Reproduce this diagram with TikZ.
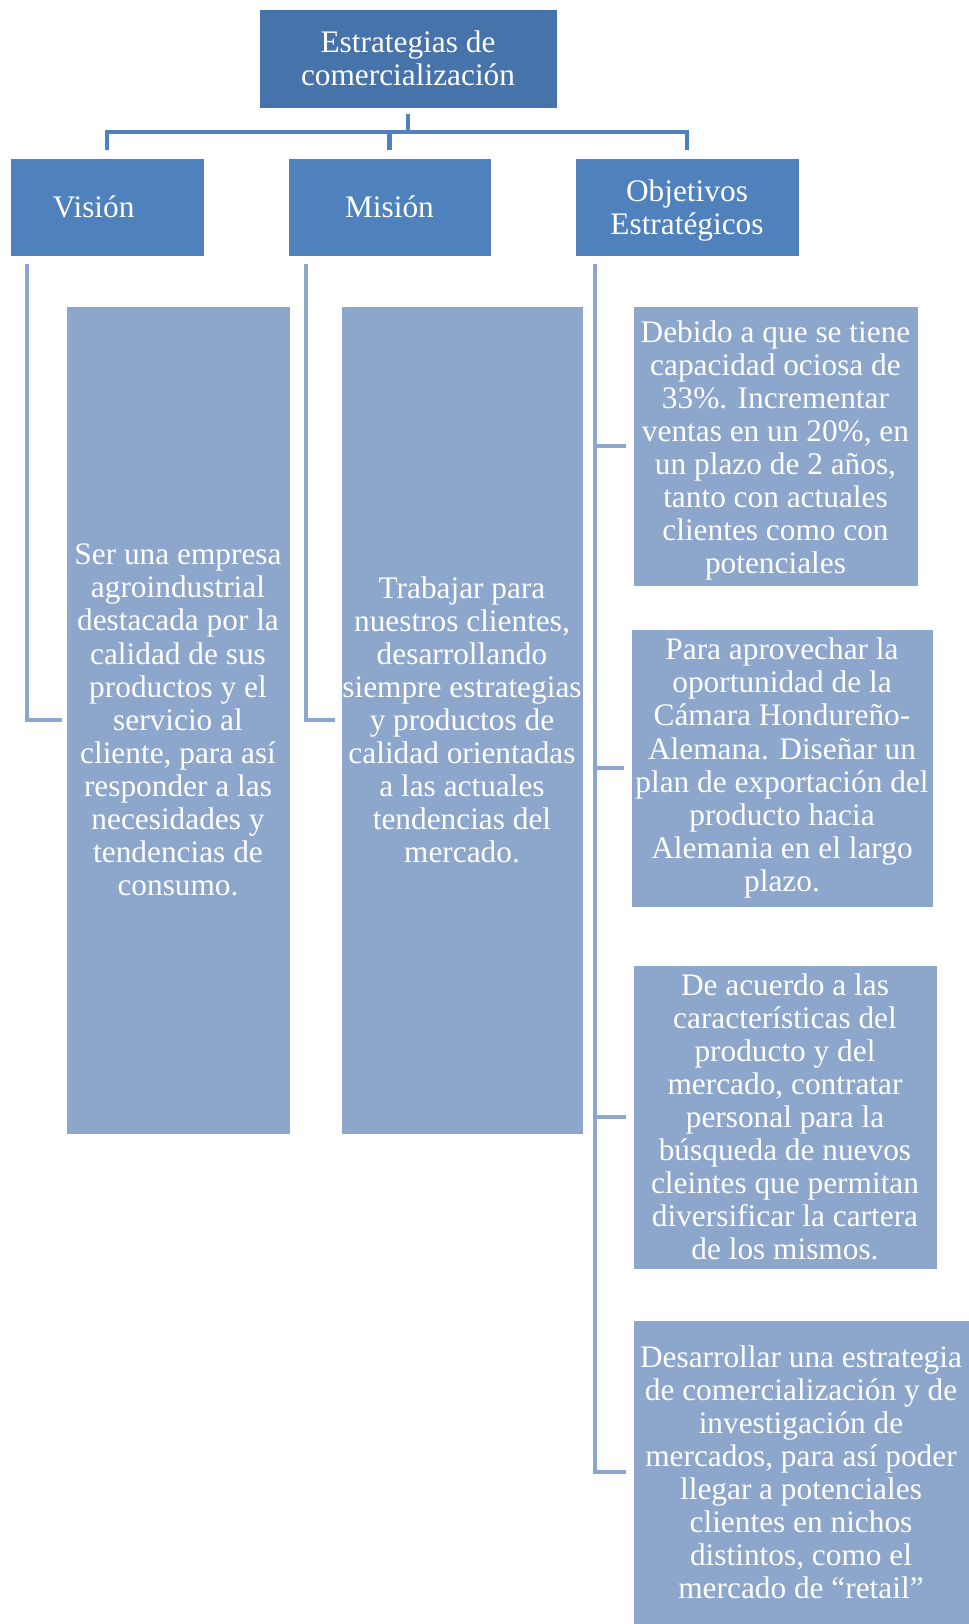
\documentclass[tikz,border=0pt]{standalone}
\usepackage{fontspec}
\setmainfont{Liberation Serif}
\usepackage{tikz}
\usetikzlibrary{positioning}

\definecolor{topblue}{HTML}{4673AA}
\definecolor{midblue}{HTML}{4F81BD}
\definecolor{paleblue}{HTML}{8DA6CC}

\begin{document}
\begin{tikzpicture}[
    x=0.75pt, y=-0.75pt,
    every node/.style={font=\fontsize{23.5}{24.8}\selectfont, text=white, align=center, inner sep=0pt},
    head/.style={draw=white, line width=0.5pt, fill=topblue, minimum width=223.5pt, minimum height=74.25pt},
    level/.style={draw=white, line width=0.5pt, fill=midblue, minimum height=73.5pt},
    detail/.style={draw=white, line width=0.5pt, fill=paleblue},
    link/.style={draw=midblue, line width=3.2pt, shorten <=4.5pt, shorten >=6pt},
    branch/.style={draw=paleblue, line width=3.2pt}
]
    \useasboundingbox (0,0) rectangle (969,1624);

    % Root
    \node[head] (top) at (408,58.5) {Estrategias de\\comercialización};

    % Second level
    \node[level, minimum width=145.5pt] (vision) at (107,207) {Visión\hspace*{20pt}};
    \node[level, minimum width=152.25pt] (mision) at (389.5,207) {Misión};
    \node[level, minimum width=168pt] (obj) at (687,207) {\rule{0pt}{22pt}Objetivos\\Estratégicos};

    % Vision and mission statements
    \node[detail, minimum width=168pt, minimum height=621pt] (vtext) at (178,720)
        {Ser una empresa\\agroindustrial\\destacada por la\\calidad de sus\\productos y el\\servicio al\\cliente, para así\\responder a las\\necesidades y\\tendencias de\\consumo.};
    \node[detail, minimum width=181.5pt, minimum height=621pt] (mtext) at (462,720)
        {Trabajar para\\nuestros clientes,\\desarrollando\\siempre estrategias\\y productos de\\calidad orientadas\\a las actuales\\tendencias del\\mercado.};

    % Strategic goals
    \node[detail, minimum width=213.75pt, minimum height=210pt] (o1) at (775.5,446)
        {\rule{0pt}{23pt}Debido a que se tiene\\capacidad ociosa de\\33\%. Incrementar\\ventas en un 20\%, en\\un plazo de 2 años,\\tanto con actuales\\clientes como con\\potenciales};
    \node[detail, minimum width=226.5pt, minimum height=208.5pt] (o2) at (782,768)
        {Para aprovechar la\\oportunidad de la\\Cámara Hondureño-\\Alemana. Diseñar un\\plan de exportación del\\producto hacia\\Alemania en el largo\\plazo.};
    \node[detail, minimum width=228pt, minimum height=228pt] (o3) at (785,1117)
        {De acuerdo a las\\características del\\producto y del\\mercado, contratar\\personal para la\\búsqueda de nuevos\\cleintes que permitan\\diversificar la cartera\\de los mismos.};
    \node[detail, minimum width=252pt, minimum height=228pt] (o4) at (801,1472)
        {Desarrollar una estrategia\\de comercialización y de\\investigación de\\mercados, para así poder\\llegar a potenciales\\clientes en nichos\\distintos, como el\\mercado de “retail”};

    % Tree lines
    \foreach \n in {vision, mision, obj}
        \draw[link] (top.south) -- ++(0,24) -| (\n.north);

    \draw[branch, shorten >=3pt] ([shift={(17,8)}]vision.south west) |- (vtext.west);
    \draw[branch, shorten >=4pt] ([shift={(18,8)}]mision.south west) |- (mtext.west);

    \coordinate (spine) at ([shift={(20,8)}]obj.south west);
    \draw[branch, shorten >=5pt] (spine) |- (o4.west);
    \foreach \n in {o1, o2, o3}
        \draw[branch, shorten >=5pt] (spine |- \n.west) -- (\n.west);

\end{tikzpicture}
\end{document}
